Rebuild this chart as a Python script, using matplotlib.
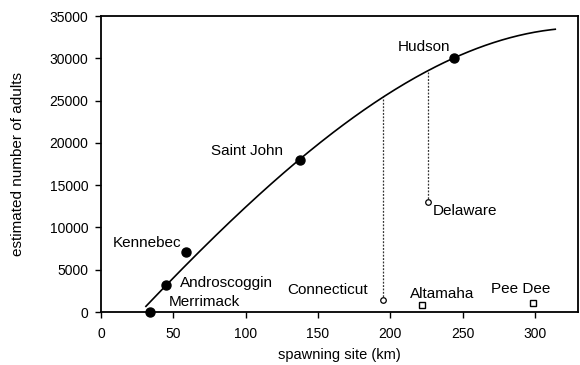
import numpy as np
import matplotlib
matplotlib.use("Agg")
import matplotlib.pyplot as plt

plt.rcParams['font.family'] = ['Liberation Sans', 'DejaVu Sans']

# Observed rivers (filled circles)
obs_names = ["Merrimack", "Androscoggin", "Kennebec", "Saint John", "Hudson"]
obs_km = [33.9, 44.8, 58.8, 137.7, 244.2]
obs_adults = [0, 3190, 7090, 17970, 30030]

# Rivers with open circles (with dotted drop from curve)
circ_names = ["Connecticut", "Delaware"]
circ_km = [194.9, 226.0]
circ_adults = [1420, 13000]
circ_curve_top = [25420, 28380]

# Rivers with open squares
sq_names = ["Altamaha", "Pee Dee"]
sq_km = [221.9, 298.4]
sq_adults = [790, 1030]

# Fitted curve
curve_km = [31.1, 44.8, 58.8, 100.0, 137.7, 156.3, 194.4, 225.5, 244.2, 280.0, 314.1]
curve_adults = [745, 3190, 5490, 12100, 17970, 21165, 25420, 28380, 30030, 32100, 33580]

x_ticks = [0, 50, 100, 150, 200, 250, 300]
y_ticks = [0, 5000, 10000, 15000, 20000, 25000, 30000, 35000]

# label positions (left, vertical-center)
label_pos = {
    "Hudson": (205.5, 31330),
    "Saint John": (76.0, 19000),
    "Kennebec": (8.3, 8160),
    "Androscoggin": (54.7, 3430),
    "Merrimack": (47.0, 1180),
    "Connecticut": (128.7, 2600),
    "Delaware": (229.7, 11940),
    "Altamaha": (213.8, 2130),
    "Pee Dee": (269.8, 2720),
}

fig = plt.figure(figsize=(5.8, 3.65), dpi=100)
ax = fig.add_axes([0.174, 0.145, 0.823, 0.811])

# smooth curve through read points
coef = np.polyfit(curve_km, curve_adults, 3)
xs = np.linspace(curve_km[0], curve_km[-1], 200)
ax.plot(xs, np.polyval(coef, xs), color='black', lw=1.2, zorder=2)

for k, top, a in zip(circ_km, circ_curve_top, circ_adults):
    ax.plot([k, k], [a, top], color='#333333', lw=0.9, ls=(0, (1.5, 1.2)), zorder=1)

ax.plot(obs_km, obs_adults, 'o', color='black', ms=6.5, zorder=3, clip_on=False)
ax.plot(circ_km, circ_adults, 'o', mfc='white', mec='black', ms=4, mew=0.9, zorder=3)
ax.plot(sq_km, sq_adults, 's', mfc='white', mec='black', ms=5, mew=1.0, zorder=3)

for name, (x, y) in label_pos.items():
    ax.text(x, y, name, fontsize=11, ha='left', va='center')

ax.set_xlim(0, 330)
ax.set_ylim(0, 35000)
ax.set_xticks(x_ticks)
ax.set_yticks(y_ticks)
ax.tick_params(direction='out', length=4, width=1, labelsize=10)
ax.tick_params(axis='x', pad=7)
ax.tick_params(axis='y', pad=5)
for s in ax.spines.values():
    s.set_linewidth(1.3)
ax.set_xlabel("spawning site (km)", fontsize=10.5, labelpad=5)
ax.set_ylabel("estimated number of adults", fontsize=11, labelpad=18)

fig.savefig("out.png", dpi=100)
